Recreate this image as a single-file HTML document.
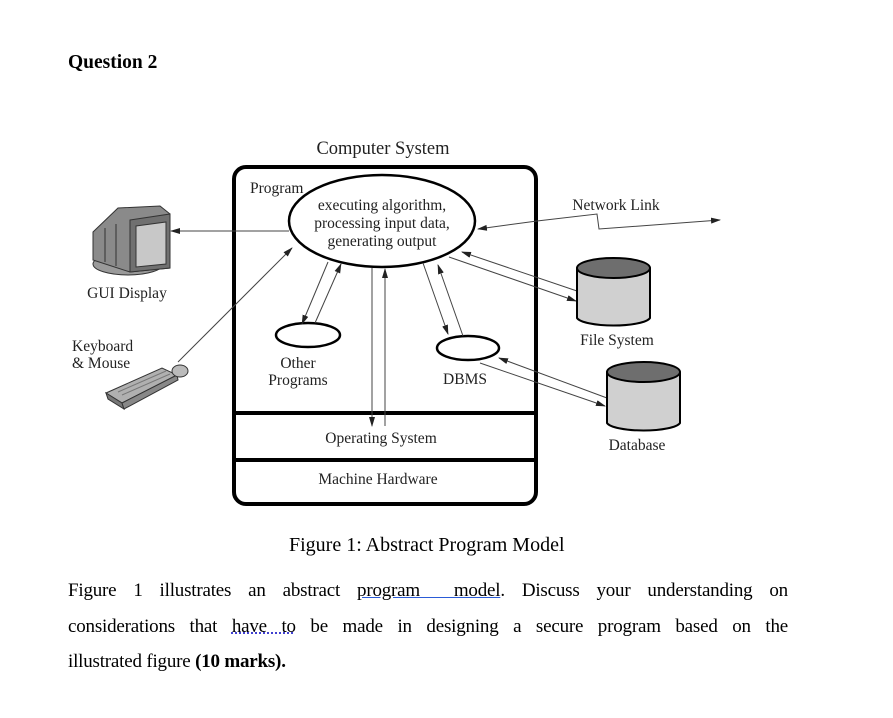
<!DOCTYPE html>
<html><head><meta charset="utf-8"><style>
body{margin:0;background:#fff;width:893px;height:718px;overflow:hidden;position:relative;font-family:"Liberation Serif",serif;}
.t{position:absolute;color:#000;white-space:nowrap}
.p{position:absolute;left:68px;width:720px;font-size:19px;text-align:justify;text-align-last:justify;white-space:nowrap;letter-spacing:-0.2px}
</style></head><body>
<div class="t" style="left:68px;top:52px;font-size:19.5px;font-weight:bold">Question 2</div>
<svg width="893" height="718" style="position:absolute;left:0;top:0" font-family="Liberation Serif, serif" fill="#222">
<defs><marker id="a" markerWidth="10" markerHeight="8" refX="9" refY="4" orient="auto" markerUnits="userSpaceOnUse"><path d="M0,1 L10,4 L0,7z" fill="#222"/></marker></defs>
<text x="383" y="154" font-size="18.5" text-anchor="middle">Computer System</text>
<rect x="234" y="167" width="302" height="337" rx="12" fill="none" stroke="#000" stroke-width="4"/>
<line x1="234" y1="413" x2="536" y2="413" stroke="#000" stroke-width="4"/>
<line x1="234" y1="460" x2="536" y2="460" stroke="#000" stroke-width="4"/>
<text x="250" y="193" font-size="15.5">Program</text>
<ellipse cx="382" cy="221" rx="93" ry="46" fill="#fff" stroke="#000" stroke-width="2.5"/>
<text x="382" y="210" font-size="15.5" text-anchor="middle">executing algorithm,</text>
<text x="382" y="228" font-size="15.5" text-anchor="middle">processing input data,</text>
<text x="382" y="246" font-size="15.5" text-anchor="middle">generating output</text>
<ellipse cx="308" cy="335" rx="32" ry="12" fill="#fff" stroke="#000" stroke-width="2.5"/>
<text x="298" y="368" font-size="15.5" text-anchor="middle">Other</text>
<text x="298" y="385" font-size="15.5" text-anchor="middle">Programs</text>
<ellipse cx="468" cy="348" rx="31" ry="12" fill="#fff" stroke="#000" stroke-width="2.5"/>
<text x="465" y="384" font-size="15.5" text-anchor="middle">DBMS</text>
<text x="381" y="443" font-size="15.5" text-anchor="middle">Operating System</text>
<text x="378" y="484" font-size="15.5" text-anchor="middle">Machine Hardware</text>
<g stroke="#444" stroke-width="1" fill="none">
<line x1="289" y1="231" x2="171" y2="231" marker-end="url(#a)"/>
<line x1="178" y1="362" x2="292" y2="248" marker-end="url(#a)"/>
<line x1="328" y1="262" x2="302" y2="324" marker-end="url(#a)"/>
<line x1="315" y1="323" x2="341" y2="264" marker-end="url(#a)"/>
<line x1="372" y1="268" x2="372" y2="426" marker-end="url(#a)"/>
<line x1="385" y1="426" x2="385" y2="269" marker-end="url(#a)"/>
<line x1="423" y1="263" x2="448" y2="334" marker-end="url(#a)"/>
<line x1="463" y1="336" x2="438" y2="265" marker-end="url(#a)"/>
<line x1="537" y1="221" x2="478" y2="229" marker-end="url(#a)"/>
<polyline points="537,221 597,214 599,229 720,220" marker-end="url(#a)"/>
<line x1="577" y1="291" x2="462" y2="252" marker-end="url(#a)"/>
<line x1="449" y1="257" x2="576" y2="301" marker-end="url(#a)"/>
<line x1="607" y1="398" x2="499" y2="358" marker-end="url(#a)"/>
<line x1="480" y1="363" x2="605" y2="406" marker-end="url(#a)"/>
</g>
<text x="616" y="210" font-size="15.5" text-anchor="middle">Network Link</text>
<g stroke="#000" stroke-width="2">
<path d="M577,268 V318 A37,9 0 0 0 650,318 V268" fill="#d0d0d0"/>
<ellipse cx="613.5" cy="268" rx="36.5" ry="10" fill="#6e6e6e"/>
<path d="M607,372 V423 A37,9 0 0 0 680,423 V372" fill="#d0d0d0"/>
<ellipse cx="643.5" cy="372" rx="36.5" ry="10" fill="#6e6e6e"/>
</g>
<text x="617" y="345" font-size="15.5" text-anchor="middle">File System</text>
<text x="637" y="450" font-size="15.5" text-anchor="middle">Database</text>
<g stroke="#333" stroke-width="1">
<ellipse cx="128" cy="264" rx="35" ry="11" fill="#9a9a9a"/>
<polygon points="93,232 118,208 160,206 170,214 170,268 130,272 93,260" fill="#8a8a8a"/>
<polygon points="130,220 170,214 170,268 130,272" fill="#707070"/>
<polygon points="136,226 166,222 166,264 136,267" fill="#c8c8c8"/>
<line x1="105" y1="228" x2="105" y2="262"/>
<line x1="116" y1="224" x2="116" y2="266"/>
<polygon points="106,393 162,368 177,375 122,403" fill="#b0b0b0"/>
<polygon points="106,393 122,403 124,409 108,399" fill="#777"/>
<polygon points="122,403 177,375 178,380 124,409" fill="#888"/>
<line x1="118" y1="392" x2="166" y2="371" stroke="#777"/>
<line x1="122" y1="395" x2="170" y2="374" stroke="#777"/>
<ellipse cx="180" cy="371" rx="8" ry="6" fill="#bbb"/>
</g>
<text x="127" y="298" font-size="15.5" text-anchor="middle">GUI Display</text>
<text x="72" y="351" font-size="15.5">Keyboard</text>
<text x="72" y="368" font-size="15.5">&amp; Mouse</text>
</svg>
<div class="t" style="left:289px;top:534px;font-size:20px">Figure 1: Abstract Program Model</div>
<div class="p" style="top:580px">Figure 1 illustrates an abstract <span style="text-decoration:underline;text-decoration-color:#2a5bd7">program&nbsp;&nbsp;model</span>. Discuss your understanding on</div>
<div class="p" style="top:616px">considerations that <span style="text-decoration:underline dotted;text-decoration-color:#4040d0">have to</span> be made in designing a secure program based on the</div>
<div class="t" style="left:68px;top:651px;font-size:19px;letter-spacing:-0.2px">illustrated figure <b>(10 marks).</b></div>
</body></html>
